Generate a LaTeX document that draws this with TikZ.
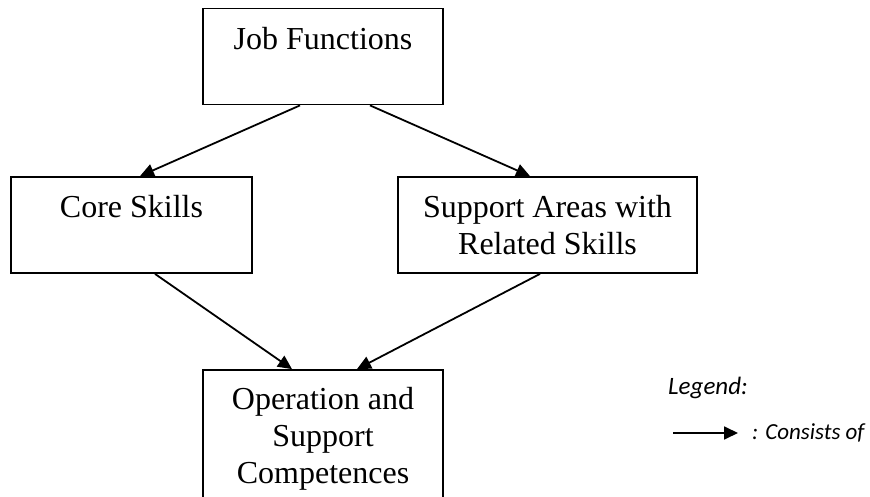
\documentclass[tikz,border=0pt]{standalone}
\usepackage{fontspec}
\setmainfont{Liberation Serif}
\newfontfamily\legendfont{Carlito}
\usetikzlibrary{arrows.meta}
\begin{document}
\begin{tikzpicture}[x=1pt,y=-1pt,
  box/.style={draw, line width=1.8pt, align=center, inner sep=0pt,
    font=\fontsize{32}{37}\selectfont},
  conn/.style={line width=1.8pt, -{Triangle[length=14pt,width=13pt]}},
  legtext/.style={inner sep=0pt, anchor=west}]
\useasboundingbox (0,0) rectangle (870,497);
\node[box, minimum width=240pt, minimum height=96pt] (job) at (323,56.5) {Job Functions\\\mbox{}};
\node[box, minimum width=241pt, minimum height=96pt] (core) at (131.5,225) {Core Skills\\\mbox{}};
\node[box, minimum width=299pt, minimum height=96pt] (sup) at (547.5,225) {Support Areas with\\Related Skills};
\node[box, minimum width=240pt, minimum height=137pt] (op) at (323,438.5) {Operation and\\Support\\Competences};
\draw[conn] ([xshift=-23pt]job.south) -- ([xshift=8.5pt]core.north);
\draw[conn] ([xshift=47pt]job.south) -- ([xshift=-17.5pt]sup.north);
\draw[conn] ([xshift=23.5pt]core.south) -- ([xshift=-31pt]op.north);
\draw[conn] ([xshift=-7.5pt]sup.south) -- ([xshift=34pt]op.north);
\node[legtext, font=\legendfont\itshape\fontsize{25}{30}\selectfont] (leg) at (668,388) {Legend:};
\coordinate (la) at (673,433);
\coordinate (lb) at (738,433);
\draw[conn] (la) -- (lb);
\node[legtext, font=\legendfont\itshape\fontsize{23}{28}\selectfont] (cons) at (752,433) {: Consists of};
\end{tikzpicture}
\end{document}
